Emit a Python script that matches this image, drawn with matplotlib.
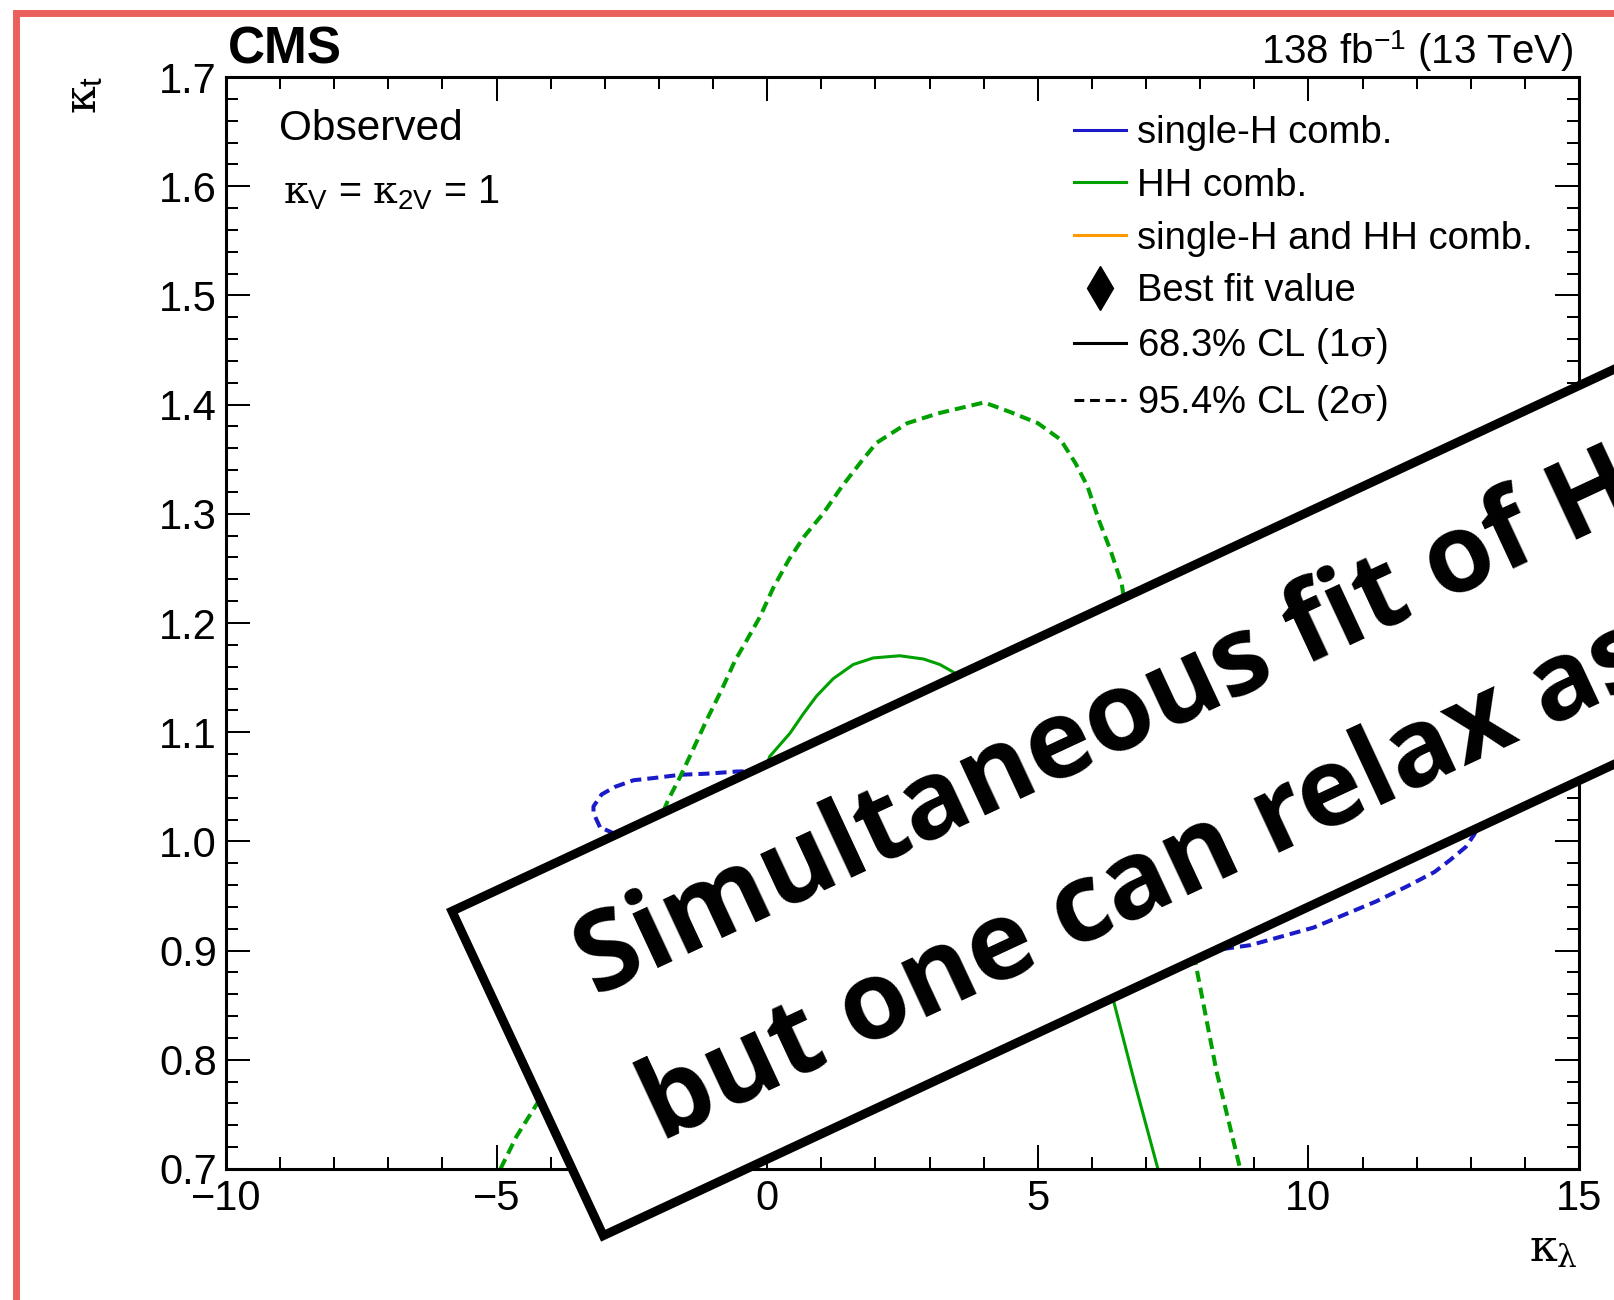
import numpy as np
import matplotlib
matplotlib.use("Agg")
import matplotlib.pyplot as plt
from matplotlib.lines import Line2D
from matplotlib.patches import Polygon
from matplotlib.ticker import FixedLocator, FixedFormatter, MultipleLocator

plt.rcParams['font.family'] = ['Liberation Sans', 'DejaVu Sans']
plt.rcParams['mathtext.fontset'] = 'custom'
plt.rcParams['mathtext.rm'] = 'Liberation Sans'
plt.rcParams['mathtext.sf'] = 'Liberation Sans'
plt.rcParams['mathtext.it'] = 'DejaVu Serif'
plt.rcParams['mathtext.bf'] = 'Liberation Sans:bold'

# ---------------- data: kappa_lambda / kappa_t contours ----------------
# HH combination, 95.4% CL (open contour, leaves through the lower axis)
hh_2s_kl = [-4.93, -4.63, -4.25, -3.6, -3.0, -2.4, -1.83, -1.61, -1.40, -1.12, -0.84,
            -0.59, -0.38, -0.13, 0.11, 0.40, 0.68, 1.03, 1.38, 1.74, 2.02, 2.59, 3.16,
            4.01, 4.50, 5.00, 5.42, 5.70, 5.92, 6.13, 6.34, 6.55, 6.85, 7.2, 7.55, 7.92,
            8.3, 8.74]
hh_2s_kt = [0.70, 0.730, 0.760, 0.83, 0.895, 0.97, 1.038, 1.059, 1.081, 1.111, 1.139,
            1.166, 1.184, 1.206, 1.232, 1.258, 1.279, 1.300, 1.325, 1.348, 1.365, 1.383,
            1.392, 1.402, 1.393, 1.383, 1.368, 1.346, 1.325, 1.294, 1.267, 1.236, 1.14,
            1.04, 0.96, 0.887, 0.79, 0.70]

# HH combination, 68.3% CL
hh_1s_kl = [-2.0, -1.9, -1.4, -0.9, -0.4, 0.05, 0.42, 0.67, 0.91, 1.22, 1.59, 1.96,
            2.45, 2.89, 3.19, 3.44, 4.5, 5.5, 6.0, 6.41, 6.79, 7.22]
hh_1s_kt = [0.70, 0.72, 0.83, 0.93, 1.02, 1.078, 1.099, 1.117, 1.133, 1.149, 1.162,
            1.168, 1.170, 1.167, 1.162, 1.155, 1.10, 1.00, 0.93, 0.852, 0.779, 0.70]

# single-H combination, 95.4% CL (closed)
sh_2s_kl = [-3.09, -3.21, -3.21, -3.06, -2.81, -2.47, -2.10, -1.61, -1.12, -0.56, 1.0,
            3.0, 5.0, 7.0, 9.0, 11.0, 12.5, 13.2, 13.3, 13.15, 13.06, 12.91, 12.62,
            12.33, 11.83, 11.25, 10.67, 10.09, 9.51, 8.93, 8.50, 7.0, 5.0, 3.0, 1.0,
            -1.0, -2.5, -3.09]
sh_2s_kt = [1.013, 1.026, 1.032, 1.043, 1.050, 1.056, 1.058, 1.061, 1.062, 1.064, 1.066,
            1.070, 1.076, 1.085, 1.094, 1.100, 1.090, 1.060, 1.035, 1.015, 1.006, 0.995,
            0.983, 0.972, 0.959, 0.945, 0.933, 0.921, 0.913, 0.905, 0.902, 0.898, 0.910,
            0.930, 0.955, 0.978, 1.000, 1.013]

# single-H and HH combination
comb_2s_kl = [-1.6, -1.0, 0.0, 2.0, 4.0, 6.0, 7.5, 8.0, 7.5, 6.0, 4.0, 2.0, 0.0, -1.0, -1.6]
comb_2s_kt = [0.99, 1.03, 1.05, 1.06, 1.06, 1.04, 1.00, 0.95, 0.90, 0.88, 0.885, 0.90,
              0.93, 0.96, 0.99]
comb_1s_kl = [0.5, 1.5, 3.0, 4.5, 5.8, 6.0, 5.0, 3.0, 1.5, 0.6, 0.5]
comb_1s_kt = [1.00, 1.03, 1.04, 1.03, 1.00, 0.96, 0.93, 0.93, 0.95, 0.97, 1.00]

# best-fit points
bf_kl = {'sh': 4.5, 'hh': 2.0, 'comb': 3.0}
bf_kt = {'sh': 0.98, 'hh': 1.02, 'comb': 0.98}

# axis ticks
x_ticks = [-10, -5, 0, 5, 10, 15]
x_tick_labels = ['\u221210', '\u22125', '0', '5', '10', '15']
y_ticks = [0.7, 0.8, 0.9, 1.0, 1.1, 1.2, 1.3, 1.4, 1.5, 1.6, 1.7]
y_tick_labels = ['0.7', '0.8', '0.9', '1.0', '1.1', '1.2', '1.3', '1.4', '1.5', '1.6', '1.7']

legend_labels = ['single-H comb.', 'HH comb.', 'single-H and HH comb.', 'Best fit value',
                 r'68.3% CL (1$\sigma$)', r'95.4% CL (2$\sigma$)']

BLUE = '#1A1AC8'
GREEN = '#00A000'
ORANGE = '#FF9A00'

# ---------------- figure ----------------
W, H = 1614, 1300
DPI = 100
fig = plt.figure(figsize=(W / DPI, H / DPI), dpi=DPI, facecolor='white')
ax = fig.add_axes([226 / W, 1 - 1169 / H, (1579 - 226) / W, (1169 - 77) / H])

solid_lw = 2.2
dash_lw = 2.9
dash = (0, (2.75, 1.5))

ax.plot(comb_2s_kl, comb_2s_kt, color=ORANGE, lw=dash_lw, ls=dash)
ax.plot(comb_1s_kl, comb_1s_kt, color=ORANGE, lw=solid_lw)
ax.plot(sh_2s_kl, sh_2s_kt, color=BLUE, lw=dash_lw, ls=dash)
ax.plot(hh_2s_kl, hh_2s_kt, color=GREEN, lw=dash_lw, ls=dash)
ax.plot(hh_1s_kl, hh_1s_kt, color=GREEN, lw=solid_lw)
for key, col in (('sh', BLUE), ('hh', GREEN), ('comb', ORANGE)):
    ax.plot([bf_kl[key]], [bf_kt[key]], marker='d', color=col, markersize=20, ls='none')

ax.set_xlim(-10, 15)
ax.set_ylim(0.7, 1.7)
ax.xaxis.set_major_locator(FixedLocator(x_ticks))
ax.xaxis.set_major_formatter(FixedFormatter(x_tick_labels))
ax.xaxis.set_minor_locator(MultipleLocator(1))
ax.yaxis.set_major_locator(FixedLocator(y_ticks))
ax.yaxis.set_major_formatter(FixedFormatter(y_tick_labels))
ax.yaxis.set_minor_locator(MultipleLocator(0.02))
ax.tick_params(which='both', direction='in', top=True, right=True, width=1.45,
               labelsize=30, colors='black')
ax.tick_params(which='major', length=17.5)
ax.tick_params(which='minor', length=8.6)
ax.tick_params(axis='x', which='major', pad=7.5)
ax.tick_params(axis='y', which='major', pad=6.5)
for sp in ax.spines.values():
    sp.set_linewidth(2.2)

handles = [Line2D([], [], color=BLUE, lw=solid_lw),
           Line2D([], [], color=GREEN, lw=solid_lw),
           Line2D([], [], color=ORANGE, lw=solid_lw),
           Line2D([], [], color='black', marker='d', ls='none', markersize=22),
           Line2D([], [], color='black', lw=solid_lw),
           Line2D([], [], color='black', lw=solid_lw, ls=(0, (3.2, 1.9)))]
ax.legend(handles, legend_labels, loc='upper left',
          bbox_to_anchor=((1074 - 226) / 1353, 1 - (115 - 77) / 1092),
          frameon=False, fontsize=27.5, handlelength=1.36, handletextpad=0.3,
          labelspacing=0.44, borderpad=0, borderaxespad=0)

ax.text((279 - 226) / 1353, 1 - (140 - 77) / 1092, 'Observed', transform=ax.transAxes,
        fontsize=30.5, ha='left', va='baseline')
ax.text((283 - 226) / 1353, 1 - (203 - 77) / 1092,
        r'$\kappa_{\mathrm{V}}$ = $\kappa_{\mathrm{2V}}$ = 1', transform=ax.transAxes,
        fontsize=28.5, ha='left', va='baseline')

fig.text(228 / W, 1 - 64 / H, 'CMS', fontsize=37, fontweight='bold', ha='left',
         va='baseline')
fig.text(1574 / W, 1 - 64 / H, r'138 fb$^{\mathrm{-1}}$ (13 TeV)', fontsize=29,
         ha='right', va='baseline')
fig.text(85 / W, 1 - 76 / H, r'$\kappa_{\mathrm{t}}$', fontsize=32, rotation=90,
         ha='center', va='top')
fig.text(1578 / W, 1 - 1261 / H, r'$\kappa_{\lambda}$', fontsize=32, ha='right',
         va='baseline')

# ---------------- slide overlay: frame and tilted callout ----------------
ov = fig.add_axes([0, 0, 1, 1], zorder=10)
ov.set_xlim(0, W)
ov.set_ylim(H, 0)
ov.axis('off')
ov.patch.set_alpha(0)

ov.plot([16, 16, W + 20], [H + 20, 12.7, 12.7], color='#EB605A', lw=5,
        solid_joinstyle='miter', clip_on=False)

theta = np.deg2rad(25.0)
u = np.array([np.cos(theta), -np.sin(theta)])
v = np.array([np.sin(theta), np.cos(theta)])
corner = np.array([446.0, 909.0])
border = 9.0
tl = corner + border / 2 * (u + v)
box_h = 367 - border
box_l = 2200
pts = [tl, tl + box_l * u, tl + box_l * u + box_h * v, tl + box_h * v]
ov.add_patch(Polygon(pts, closed=True, facecolor='white', edgecolor='black',
                     lw=border * 72 / DPI, joinstyle='miter'))


def frame(a, b):
    return corner + a * u + b * v


for (a, b), line in (((98, 143), 'Simultaneous fit of H and HH'),
                     ((96, 301), 'but one can relax assumptions')):
    x, y = frame(a, b)
    ov.text(x, y, line, rotation=25, rotation_mode='anchor', ha='left', va='baseline',
            fontsize=79, fontweight='bold', family=['Open Sans', 'DejaVu Sans'],
            color='black')

fig.savefig('out.png', dpi=DPI, facecolor='white')
